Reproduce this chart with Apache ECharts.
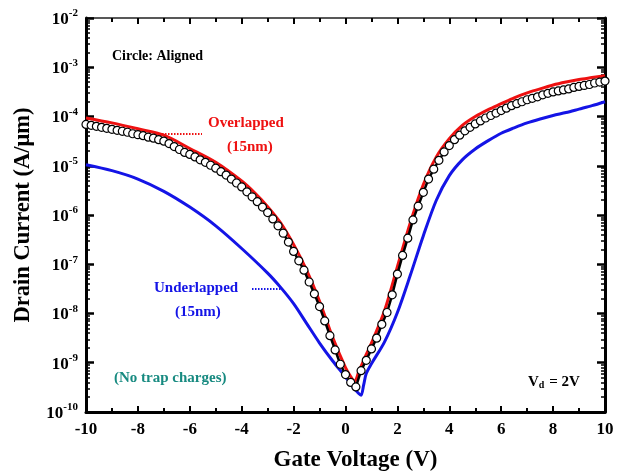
<!DOCTYPE html>
<html style="height: 100%">
<head>
  <meta charset="utf-8">
</head>
<body style="height: 100%; margin: 0; background: #fff">
  <div id="container" style="width: 626px; height: 474px"></div>

  <script type="text/javascript" src="https://cdn.jsdelivr.net/npm/echarts@6/dist/echarts.min.js"></script>
  <script type="text/javascript">
    var dom = document.getElementById("container");
    var myChart = echarts.init(dom);

    // gate voltage of the circle (aligned) series, one point every 0.2 V
    var alignedVg = [
      -10, -9.8, -9.6, -9.4, -9.2, -9, -8.8, -8.6, -8.4, -8.2,
      -8, -7.8, -7.6, -7.4, -7.2, -7, -6.8, -6.6, -6.4, -6.2,
      -6, -5.8, -5.6, -5.4, -5.2, -5, -4.8, -4.6, -4.4, -4.2,
      -4, -3.8, -3.6, -3.4, -3.2, -3, -2.8, -2.6, -2.4, -2.2,
      -2, -1.8, -1.6, -1.4, -1.2, -1, -0.8, -0.6, -0.4, -0.2,
      0, 0.2, 0.4, 0.6, 0.8, 1, 1.2, 1.4, 1.6, 1.8,
      2, 2.2, 2.4, 2.6, 2.8, 3, 3.2, 3.4, 3.6, 3.8,
      4, 4.2, 4.4, 4.6, 4.8, 5, 5.2, 5.4, 5.6, 5.8,
      6, 6.2, 6.4, 6.6, 6.8, 7, 7.2, 7.4, 7.6, 7.8,
      8, 8.2, 8.4, 8.6, 8.8, 9, 9.2, 9.4, 9.6, 9.8, 10
    ];
    // log10 of drain current (A/um)
    var alignedLogId = [
      -4.16, -4.18, -4.20, -4.22, -4.24, -4.26, -4.28, -4.30, -4.32, -4.35,
      -4.37, -4.39, -4.42, -4.44, -4.47, -4.50, -4.55, -4.61, -4.67, -4.73,
      -4.77, -4.82, -4.88, -4.93, -4.99, -5.05, -5.12, -5.19, -5.27, -5.35,
      -5.43, -5.53, -5.63, -5.73, -5.84, -5.95, -6.08, -6.22, -6.37, -6.55,
      -6.74, -6.93, -7.12, -7.36, -7.60, -7.86, -8.15, -8.45, -8.74, -9.03,
      -9.24, -9.40, -9.49, -9.16, -8.95, -8.72, -8.50, -8.22, -7.98, -7.62,
      -7.20, -6.82, -6.47, -6.10, -5.82, -5.54, -5.27, -5.07, -4.89, -4.72,
      -4.59, -4.47, -4.38, -4.29, -4.22, -4.15, -4.09, -4.03, -3.98, -3.93,
      -3.88, -3.83, -3.78, -3.74, -3.70, -3.66, -3.63, -3.60, -3.56, -3.53,
      -3.50, -3.48, -3.46, -3.44, -3.41, -3.39, -3.37, -3.35, -3.32, -3.30, -3.28
    ];

    var overlapVg = [
      -10, -9, -8, -7, -6, -5, -4, -3.5, -3, -2.5, -2, -1.5, -1, -0.5,
      0, 0.2, 0.35, 0.5, 0.7, 1, 1.5, 2, 2.5, 3, 3.5, 4, 4.5,
      5, 5.5, 6, 6.5, 7, 7.5, 8, 8.5, 9, 9.5, 10
    ];
    var overlapLogId = [
      -4.03, -4.13, -4.25, -4.38, -4.65, -4.93, -5.31, -5.55, -5.83, -6.16, -6.60, -7.12, -7.75, -8.48,
      -9.10, -9.28, -9.38, -9.20, -8.95, -8.60, -7.95, -7.05, -6.15, -5.38, -4.82, -4.45, -4.18,
      -4.00, -3.86, -3.74, -3.62, -3.52, -3.44, -3.36, -3.30, -3.25, -3.21, -3.17
    ];

    var underlapVg = [
      -10, -9, -8, -7, -6, -5, -4, -3, -2.5, -2, -1.5, -1, -0.5,
      0, 0.3, 0.5, 0.6, 0.7, 0.8, 1, 1.5, 2, 2.5, 3, 3.5, 4, 4.5,
      5, 5.5, 6, 6.5, 7, 7.5, 8, 8.5, 9, 9.5, 10
    ];
    var underlapLogId = [
      -4.98, -5.10, -5.27, -5.52, -5.84, -6.22, -6.68, -7.18, -7.47, -7.80, -8.20, -8.60, -8.96,
      -9.29, -9.50, -9.62, -9.66, -9.45, -9.22, -9.02, -8.58, -7.98, -7.22, -6.42, -5.70, -5.20, -4.88,
      -4.66, -4.49, -4.34, -4.23, -4.13, -4.05, -3.98, -3.92, -3.85, -3.78, -3.70
    ];

    var xTicks = [-10, -8, -6, -4, -2, 0, 2, 4, 6, 8, 10];

    function pairs(xs, logs) {
      return xs.map(function (x, i) { return [x, Math.pow(10, logs[i])]; });
    }

    var serif = "'Liberation Serif', 'Times New Roman', serif";

    var xBase = {
      type: 'value',
      min: xTicks[0],
      max: xTicks[xTicks.length - 1],
      interval: 2,
      splitLine: { show: false },
      axisTick: { inside: true, length: 6, lineStyle: { color: '#000', width: 2 } },
      minorTick: { show: true, splitNumber: 2, length: 4, lineStyle: { color: '#000', width: 2 } },
      minorSplitLine: { show: false }
    };
    var yBase = {
      type: 'log',
      logBase: 10,
      min: 1e-10,
      max: 1e-2,
      interval: 1,
      splitLine: { show: false },
      axisTick: { inside: true, length: 8, lineStyle: { color: '#000', width: 2.5 } },
      minorTick: { show: true, splitNumber: 9, length: 4, lineStyle: { color: '#000', width: 1.5 } },
      minorSplitLine: { show: false }
    };

    var option = {
      backgroundColor: '#fff',
      animation: false,
      grid: { left: 86, right: 21, top: 18, bottom: 62, containLabel: false, outerBoundsMode: 'none' },
      xAxis: [
        Object.assign({}, xBase, {
          position: 'bottom',
          axisLine: { onZero: false, lineStyle: { color: '#000', width: 3 } },
          axisLabel: {
            color: '#000', fontFamily: serif, fontWeight: 'bold', fontSize: 17, margin: 9,
            formatter: function (v) { return String(v); }
          },
          name: 'Gate Voltage (V)',
          nameLocation: 'middle',
          nameGap: 37,
          nameTextStyle: { color: '#000', fontFamily: serif, fontWeight: 'bold', fontSize: 23, padding: [0, 0, 0, 20] }
        }),
        Object.assign({}, xBase, {
          position: 'top',
          axisLine: { onZero: false, lineStyle: { color: '#222', width: 1.5 } },
          axisLabel: { show: false }
        })
      ],
      yAxis: [
        Object.assign({}, yBase, {
          position: 'left',
          axisLine: { onZero: false, lineStyle: { color: '#000', width: 3 } },
          axisLabel: {
            margin: 8,
            formatter: function (v) {
              var e = Math.round(Math.log(v) / Math.LN10);
              return '{b|10}{s|' + e + '}';
            },
            rich: {
              b: { color: '#000', fontFamily: serif, fontWeight: 'bold', fontSize: 17, lineHeight: 20, verticalAlign: 'bottom' },
              s: { color: '#000', fontFamily: serif, fontWeight: 'bold', fontSize: 11, lineHeight: 20, verticalAlign: 'top' }
            }
          },
          name: 'Drain Current (A/\u03bcm)',
          nameLocation: 'middle',
          nameGap: 51,
          nameRotate: 90,
          nameTextStyle: { color: '#000', fontFamily: serif, fontWeight: 'bold', fontSize: 22.5 }
        }),
        Object.assign({}, yBase, {
          position: 'right',
          axisLine: { onZero: false, lineStyle: { color: '#000', width: 3 } },
          axisLabel: { show: false }
        })
      ],
      series: [
        {
          name: 'Underlapped',
          type: 'line',
          data: pairs(underlapVg, underlapLogId),
          showSymbol: false,
          smooth: 0.3,
          lineStyle: { color: '#1414e6', width: 3 },
          z: 2
        },
        {
          name: 'Overlapped',
          type: 'line',
          data: pairs(overlapVg, overlapLogId),
          showSymbol: false,
          smooth: 0.3,
          lineStyle: { color: '#ee1111', width: 3 },
          z: 3
        },
        {
          name: 'Aligned',
          type: 'line',
          data: pairs(alignedVg, alignedLogId),
          symbol: 'circle',
          symbolSize: 8,
          showAllSymbol: true,
          lineStyle: { color: '#000', width: 2.5 },
          itemStyle: { color: '#fff', borderColor: '#000', borderWidth: 1.2 },
          z: 4
        }
      ],
      graphic: [
        { type: 'text', left: 112, top: 49, style: { text: 'Circle: Aligned', fill: '#000', font: 'bold 14px ' + serif } },
        { type: 'text', left: 208, top: 116, style: { text: 'Overlapped', fill: '#ee1111', font: 'bold 15px ' + serif } },
        { type: 'text', left: 227, top: 140, style: { text: '(15nm)', fill: '#ee1111', font: 'bold 15px ' + serif } },
        { type: 'line', shape: { x1: 156, y1: 134, x2: 202, y2: 134 }, style: { stroke: '#ee1111', lineWidth: 2, lineDash: [1.5, 1.5] } },
        { type: 'text', left: 154, top: 281, style: { text: 'Underlapped', fill: '#1414e6', font: 'bold 15px ' + serif } },
        { type: 'text', left: 175, top: 305, style: { text: '(15nm)', fill: '#1414e6', font: 'bold 15px ' + serif } },
        { type: 'line', shape: { x1: 252, y1: 289, x2: 282, y2: 289 }, style: { stroke: '#1414e6', lineWidth: 2, lineDash: [1.5, 1.5] } },
        { type: 'text', left: 114, top: 371, style: { text: '(No trap charges)', fill: '#178a80', font: 'bold 15px ' + serif } },
        {
          type: 'text', left: 528, top: 375,
          style: {
            text: '{v|V}{d|d}{v| = 2V}',
            rich: {
              v: { fill: '#000', font: 'bold 15px ' + serif, lineHeight: 18, verticalAlign: 'bottom' },
              d: { fill: '#000', font: 'bold 10px ' + serif, lineHeight: 18, verticalAlign: 'bottom', padding: [0, 1, 0, 0] }
            }
          }
        }
      ]
    };

    myChart.setOption(option);
  </script>
</body>
</html>
